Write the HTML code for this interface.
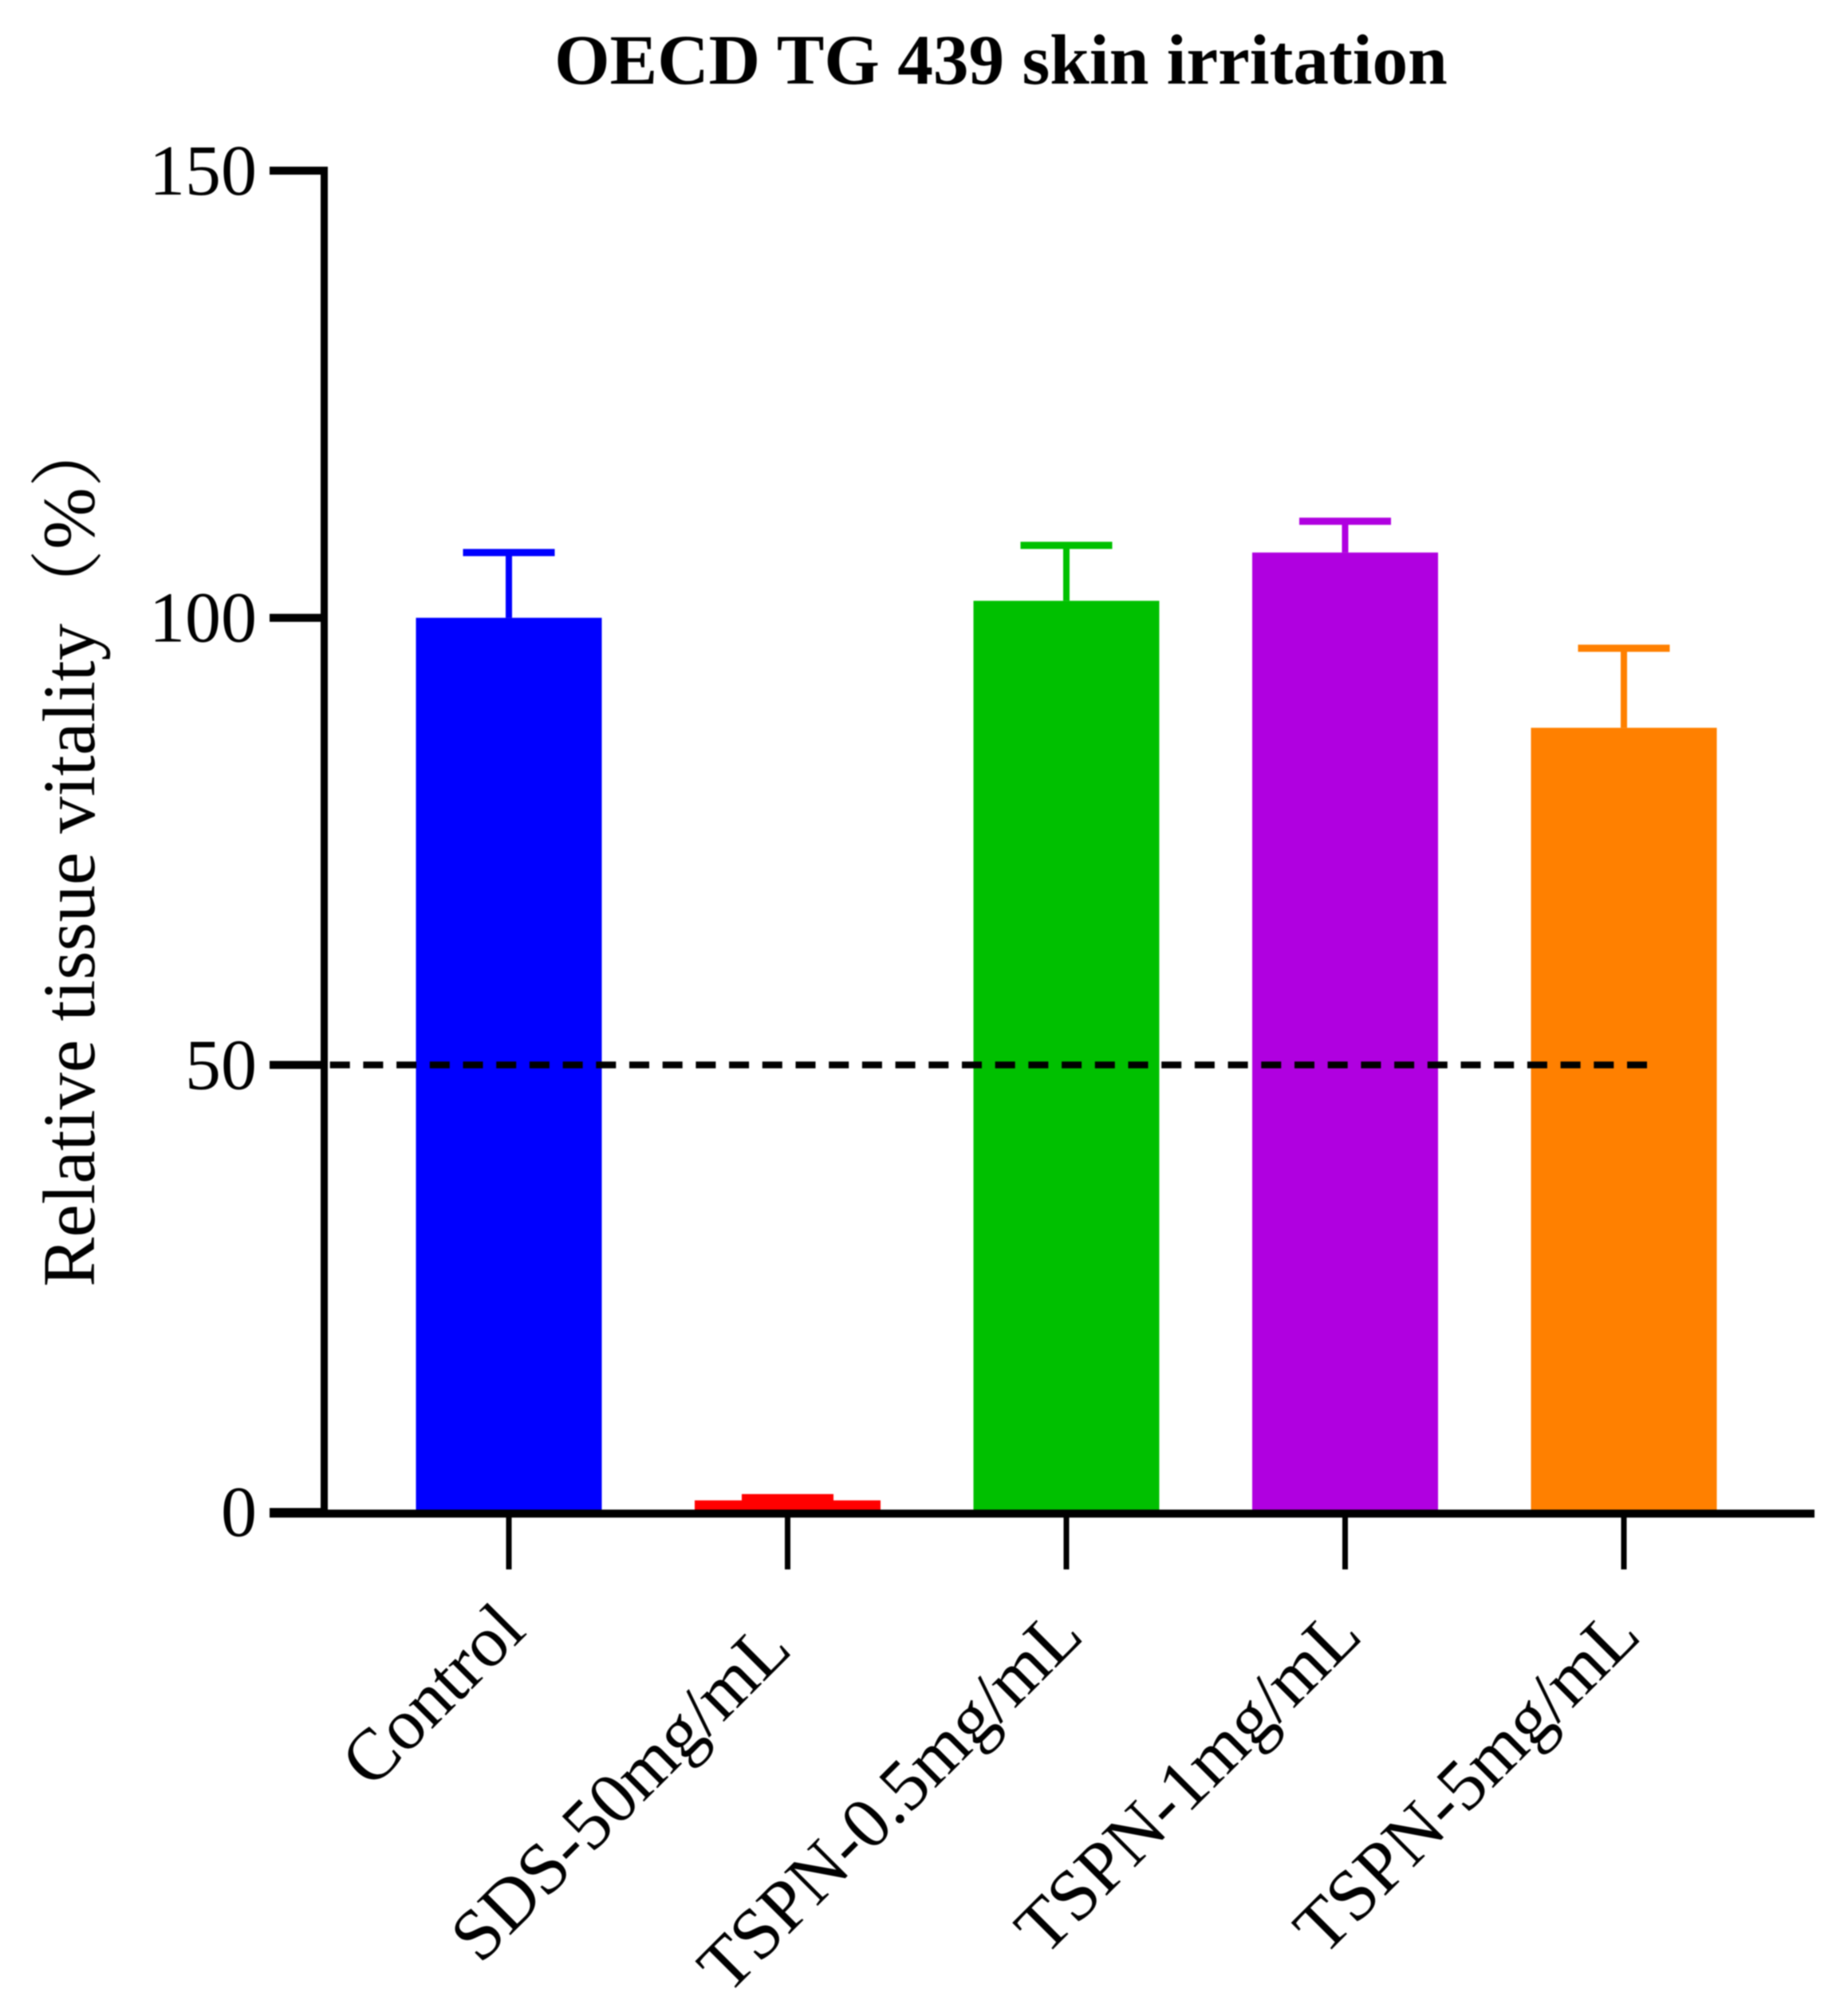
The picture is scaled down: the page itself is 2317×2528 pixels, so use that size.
<!DOCTYPE html>
<html lang="en">
<head>
<meta charset="utf-8">
<title>OECD TG 439 skin irritation</title>
<style>
html,body{margin:0;padding:0;background:#fff;width:2317px;height:2528px;overflow:hidden}
svg{display:block;filter:blur(0.8px)}
text{fill:#000;font-family:"Liberation Serif","Noto Serif CJK SC",serif}
</style>
</head>
<body>
<svg id="chart" xmlns="http://www.w3.org/2000/svg" width="2317" height="2528" viewBox="0 0 2317 2528">
<rect x="0" y="0" width="2317" height="2528" fill="#ffffff"/>
<text x="1255" y="105" text-anchor="middle" font-size="89.3" font-weight="bold">OECD TG 439 skin irritation</text>
<text transform="translate(118,1066) rotate(-90)" text-anchor="middle" font-size="93">Relative tissue vitality（%）</text>
<g id="bars"></g>
<g id="reference"></g>
<g id="axes"></g>
</svg>
<script>
const categories = ['Control', 'SDS-50mg/mL', 'TSPN-0.5mg/mL', 'TSPN-1mg/mL', 'TSPN-5mg/mL'];
const means = [100, 1.3, 101.9, 107.3, 87.7];
const errors = [7.3, 0.3, 6.2, 3.5, 8.9];
const barColors = ['#0000ff', '#ff0000', '#00c000', '#b000e0', '#ff8000'];
const yTicks = [0, 50, 100, 150];
const threshold = [50];

const svgNS = 'http://www.w3.org/2000/svg';
const yZero = 1896, yPerUnit = 11.213;
const xFirst = 638, xStep = 349.5, barWidth = 233, capWidth = 115;
function y(v) { return yZero - v * yPerUnit; }
function x(i) { return xFirst + i * xStep; }
function make(tag, attrs, parent) {
  const el = document.createElementNS(svgNS, tag);
  for (const k in attrs) el.setAttribute(k, attrs[k]);
  parent.appendChild(el);
  return el;
}
const barsG = document.getElementById('bars');
const refG = document.getElementById('reference');
const axesG = document.getElementById('axes');

categories.forEach(function (c, i) {
  const cx = x(i), color = barColors[i], top = y(means[i]), capY = y(means[i] + errors[i]);
  const stem = make('line', {x1: cx, x2: cx, y1: top, y2: capY, stroke: color, 'stroke-width': 8}, barsG);
  
  
  const cap = make('line', {x1: cx - capWidth / 2, x2: cx + capWidth / 2, y1: capY, y2: capY, stroke: color, 'stroke-width': 9}, barsG);
  
  
  const bar = make('rect', {x: cx - barWidth / 2, y: top, width: barWidth, height: y(0) - top, fill: color}, barsG);
  
  
});

const dash = make('line', {x1: 406, x2: 2066, y1: y(threshold[0]), y2: y(threshold[0]), stroke: '#000', 'stroke-width': 8.5, 'stroke-dasharray': '25 16.7', 'stroke-dashoffset': 34}, refG);



const yAxis = make('line', {x1: 406.5, x2: 406.5, y1: y(150) - 5, y2: y(0), stroke: '#000', 'stroke-width': 9}, axesG);


const xAxis = make('line', {x1: 338, x2: 2275, y1: y(0) + 2, y2: y(0) + 2, stroke: '#000', 'stroke-width': 10}, axesG);



yTicks.forEach(function (t) {
  const tick = make('line', {x1: 338, x2: 406, y1: y(t), y2: y(t), stroke: '#000', 'stroke-width': 10}, axesG);
  
  
  const label = make('text', {x: 322, y: y(t) + 30, 'text-anchor': 'end', 'font-size': 90}, axesG);
  label.textContent = t;
  
  
});

categories.forEach(function (c, i) {
  const tick = make('line', {x1: x(i), x2: x(i), y1: y(0), y2: 1968, stroke: '#000', 'stroke-width': 7}, axesG);
  
  
  const ax = x(i) + (i === 0 ? 24 : (i === 1 ? 8 : 24));
  const ay = i === 0 ? 2048 : (i === 1 ? 2071 : 2054);
  const label = make('text', {transform: 'translate(' + ax + ',' + ay + ') rotate(-45)', 'text-anchor': 'end', 'font-size': 91}, axesG);
  label.textContent = c;
  
  
});
</script>
</body>
</html>
